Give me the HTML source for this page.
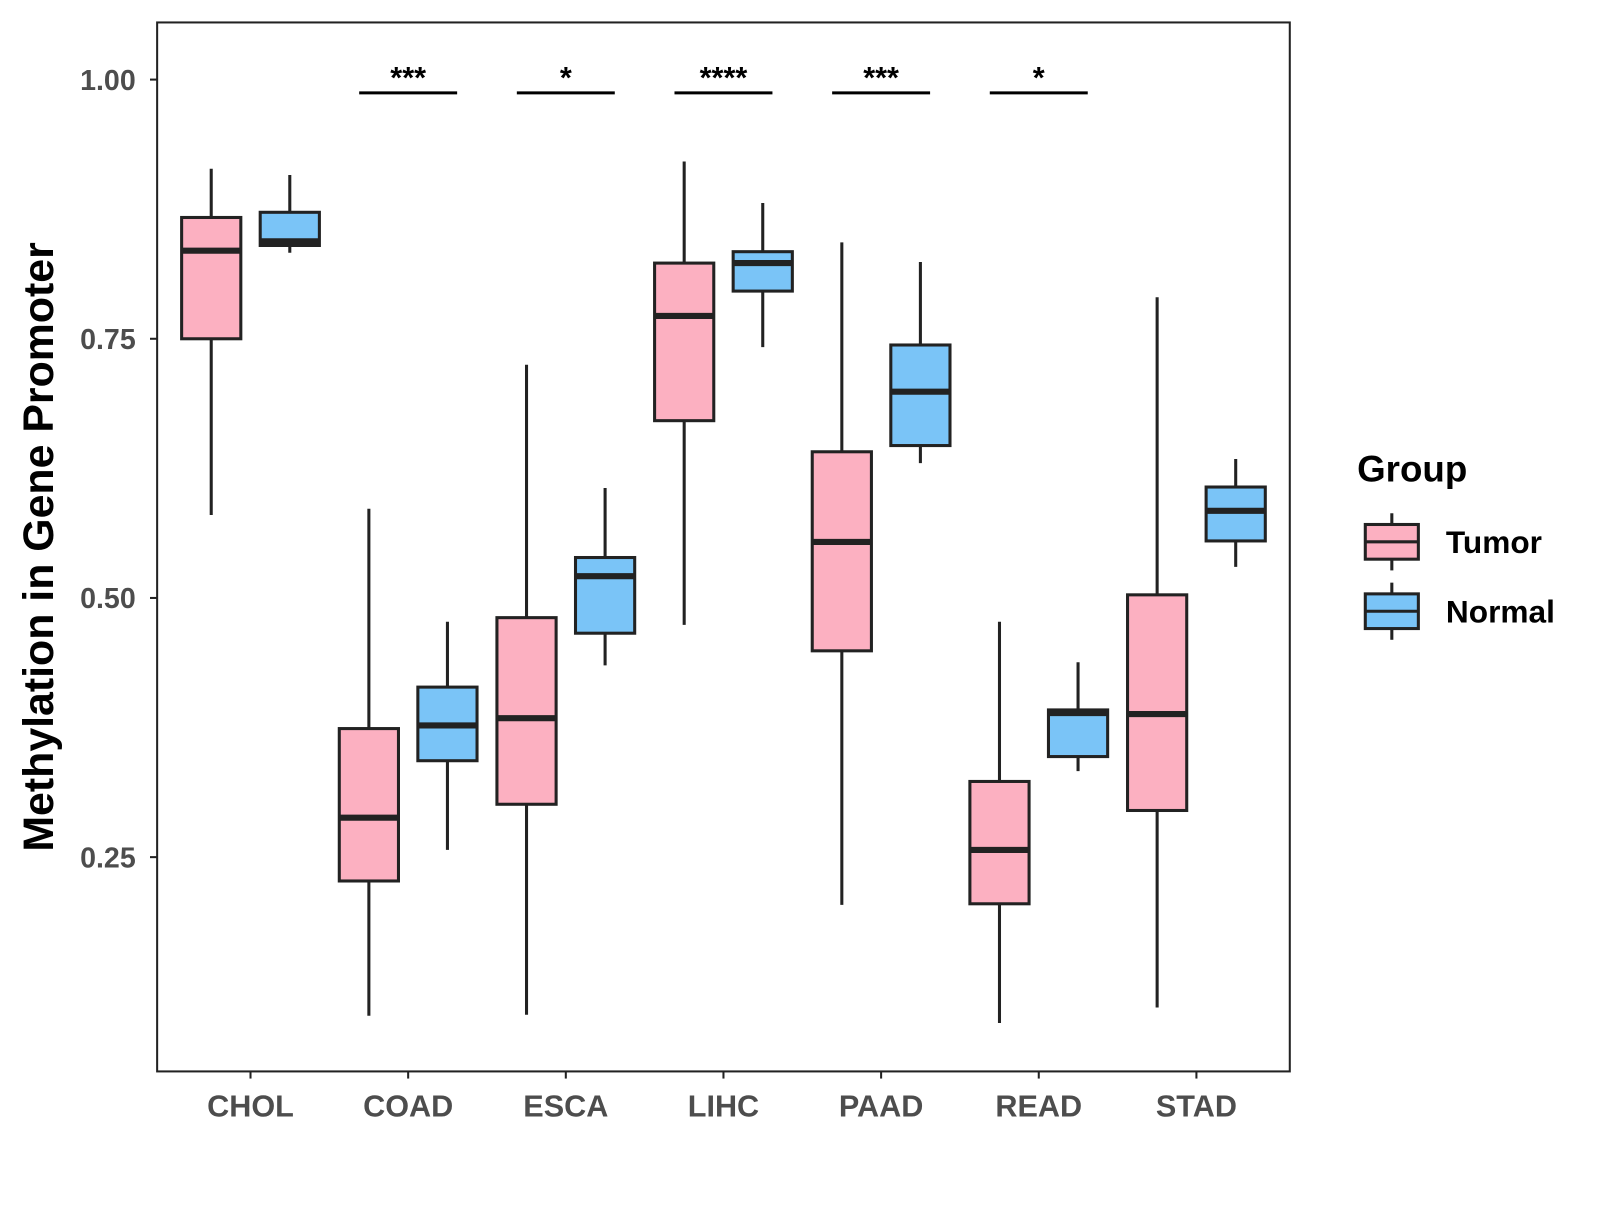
<!DOCTYPE html>
<html><head><meta charset="utf-8"><style>
html,body{margin:0;padding:0;background:#fff;}
svg text{font-family:"Liberation Sans",Arial,sans-serif;font-weight:bold;}
</style></head><body>
<svg id="chart" width="1600" height="1200" xmlns="http://www.w3.org/2000/svg">
<rect x="0" y="0" width="1600" height="1200" fill="#fff"/>
<g transform="scale(1.0204)">
<g id="plot"></g>
<rect x="154" y="22" width="1110" height="1028" fill="none" stroke="#222" stroke-width="2"/>
<text x="52" y="536" font-size="42" fill="#000" text-anchor="middle" transform="rotate(-90 52 536)">Methylation in Gene Promoter</text>
<g>
<text x="1330" y="472" font-size="36" fill="#000">Group</text>
<g>
<line x1="1364" y1="503" x2="1364" y2="559" stroke="#222" stroke-width="3"/>
<rect x="1338" y="514" width="52" height="34" fill="#FCB0C1" stroke="#222" stroke-width="3"/>
<line x1="1338" y1="531" x2="1390" y2="531" stroke="#222" stroke-width="3"/>
<text x="1417" y="542" font-size="31" fill="#000">Tumor</text></g>
<g>
<line x1="1364" y1="571" x2="1364" y2="627" stroke="#222" stroke-width="3"/>
<rect x="1338" y="582" width="52" height="34" fill="#7AC4F7" stroke="#222" stroke-width="3"/>
<line x1="1338" y1="599" x2="1390" y2="599" stroke="#222" stroke-width="3"/>
<text x="1417" y="610" font-size="31" fill="#000">Normal</text></g>
</g>
</g>
</svg>
<script>
const categories=["CHOL","COAD","ESCA","LIHC","PAAD","READ","STAD"];
// [lowWhisker, Q1, median, Q3, highWhisker]
const tumorStats=[[0.580,0.750,0.835,0.867,0.914],[0.097,0.227,0.288,0.374,0.586],[0.098,0.301,0.384,0.481,0.725],[0.474,0.671,0.772,0.823,0.921],[0.204,0.449,0.554,0.641,0.843],[0.090,0.205,0.257,0.323,0.477],[0.105,0.295,0.388,0.503,0.790]];
const normalStats=[[0.833,0.840,0.844,0.872,0.908],[0.257,0.343,0.377,0.414,0.477],[0.435,0.466,0.521,0.539,0.606],[0.742,0.796,0.823,0.834,0.881],[0.630,0.647,0.699,0.744,0.824],[0.333,0.347,0.389,0.392,0.438],[0.530,0.555,0.584,0.607,0.634]];
const signifLabels=["","***","*","****","***","*",""];
const yTicks=[0.25,0.50,0.75,1.00];
const yTickLabels=["0.25","0.50","0.75","1.00"];

const NS="http://www.w3.org/2000/svg";
const g=document.getElementById("plot");
function y(v){return 78+(1-v)*1016;}
function xc(i){return 245.5+i*154.5;}
function mk(tag,attrs,parent){const e=document.createElementNS(NS,tag);for(const k in attrs)e.setAttribute(k,attrs[k]);(parent||g).appendChild(e);return e;}

yTicks.forEach((t,i)=>{
  const l=mk("line",{x1:147,x2:154,y1:y(t),y2:y(t),stroke:"#222","stroke-width":2});
  
  
  const tx=mk("text",{x:133,y:y(t)+10,"font-size":28,fill:"#4d4d4d","text-anchor":"end"});
  tx.textContent=yTickLabels[i];
  
  
});
categories.forEach((c,i)=>{
  const x=xc(i);
  const l=mk("line",{x1:x,x2:x,y1:1050,y2:1057,stroke:"#222","stroke-width":2});
  
  
  const tx=mk("text",{x:x,y:1094,"font-size":30,fill:"#4d4d4d","text-anchor":"middle"});
  tx.textContent=c;
  
  
});
function box(cx,s,fill,name){
  const grp=mk("g",{});
  
  
  mk("line",{x1:cx,x2:cx,y1:y(s[0]),y2:y(s[4]),stroke:"#222","stroke-width":3},grp);
  mk("rect",{x:cx-29,y:y(s[3]),width:58,height:y(s[1])-y(s[3]),fill:fill,stroke:"#222","stroke-width":3},grp);
  mk("line",{x1:cx-29,x2:cx+29,y1:y(s[2]),y2:y(s[2]),stroke:"#222","stroke-width":6},grp);
}
categories.forEach((c,i)=>{
  box(xc(i)-38.5,tumorStats[i],"#FCB0C1","box-tumor-"+c.toLowerCase());
  box(xc(i)+38.5,normalStats[i],"#7AC4F7","box-normal-"+c.toLowerCase());
  if(signifLabels[i]){
    const l=mk("line",{x1:xc(i)-48,x2:xc(i)+48,y1:91,y2:91,stroke:"#000","stroke-width":3});
    
    
    const t=mk("text",{x:xc(i),y:86,"font-size":30,fill:"#000","text-anchor":"middle"});
    t.textContent=signifLabels[i];
    
    
  }
});
</script>
</body></html>
